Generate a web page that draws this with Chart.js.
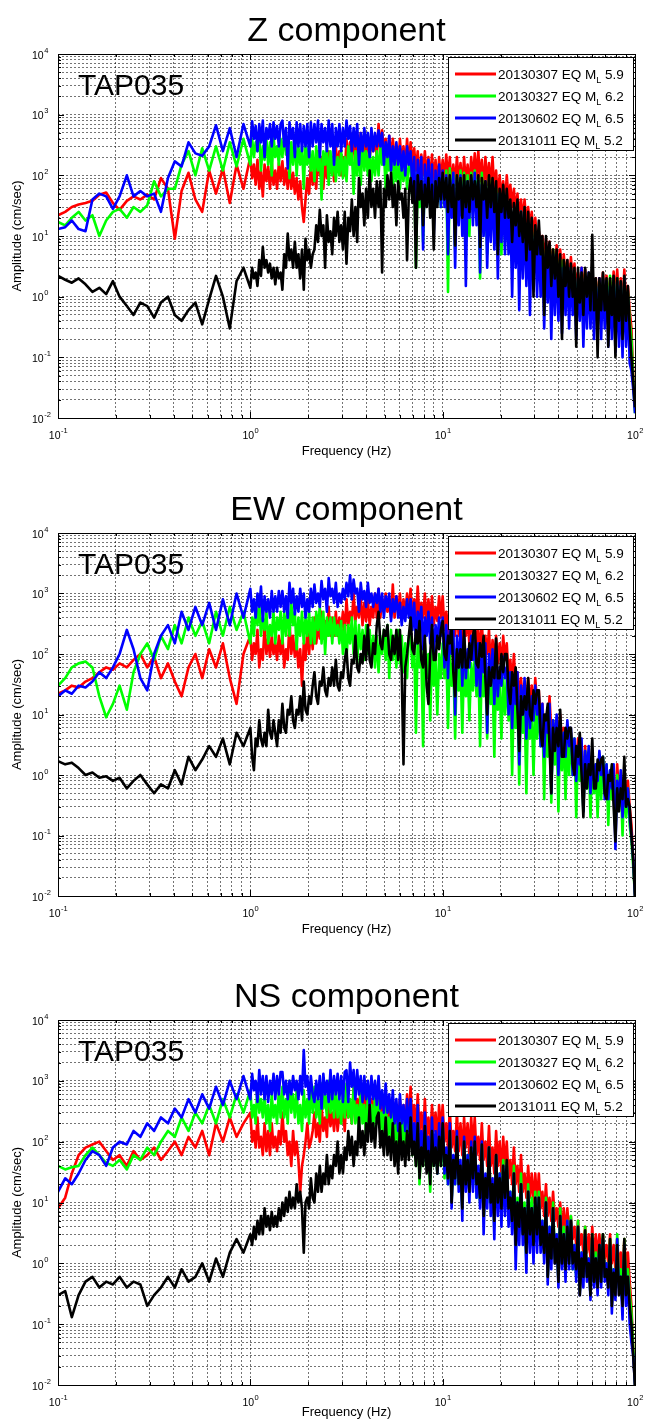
<!DOCTYPE html>
<html>
<head>
<meta charset="utf-8">
<title>TAP035 amplitude spectra</title>
<script src="https://cdn.jsdelivr.net/npm/chart.js@4.4.1/dist/chart.umd.min.js"></script>
<style>
  html, body { margin: 0; padding: 0; background: #fff; }
  body { width: 647px; height: 1421px; position: relative; overflow: hidden; }
  canvas { position: absolute; left: 0; }
</style>
</head>
<body>
<canvas id="panelZ" width="647" height="470" style="top:0px"></canvas>
<canvas id="panelEW" width="647" height="485" style="top:470px"></canvas>
<canvas id="panelNS" width="647" height="466" style="top:955px"></canvas>
<script>
const FONT = "'Liberation Sans', Arial, Helvetica, sans-serif";

// Frequency samples (Hz) shared by every spectrum
const freqHz = [
  0.100, 0.109, 0.118, 0.128, 0.139, 0.151, 0.164, 0.178, 0.193, 0.209,
  0.228, 0.247, 0.268, 0.291, 0.316, 0.343, 0.373, 0.405, 0.439, 0.477,
  0.518, 0.562, 0.611, 0.663, 0.720, 0.782, 0.848, 0.921,
  1.000, 1.022, 1.044, 1.066, 1.089, 1.113, 1.136, 1.161, 1.186, 1.212, 1.238, 1.265, 1.292, 1.320, 1.348, 1.377, 1.407, 1.437,
  1.468, 1.500, 1.532, 1.565, 1.598, 1.633, 1.668, 1.704, 1.741, 1.778, 1.817, 1.856, 1.896, 1.936, 1.978, 2.021, 2.064, 2.109,
  2.154, 2.201, 2.248, 2.297, 2.346, 2.397, 2.448, 2.501, 2.555, 2.610, 2.666, 2.724, 2.783, 2.843, 2.904, 2.967, 3.030, 3.096,
  3.162, 3.231, 3.300, 3.371, 3.444, 3.518, 3.594, 3.671, 3.750, 3.831, 3.914, 3.998, 4.084, 4.172, 4.262, 4.354, 4.448, 4.544,
  4.642, 4.742, 4.844, 4.948, 5.055, 5.164, 5.275, 5.389, 5.505, 5.623, 5.745, 5.869, 5.995, 6.124, 6.256, 6.391, 6.529, 6.669,
  6.813, 6.960, 7.110, 7.263, 7.419, 7.579, 7.743, 7.910, 8.080, 8.254, 8.432, 8.614, 8.799, 8.989, 9.183, 9.381, 9.583, 9.790,
  10.00, 10.22, 10.44, 10.66, 10.89, 11.13, 11.36, 11.61, 11.86, 12.12, 12.38, 12.65, 12.92, 13.20, 13.48, 13.77, 14.07, 14.37,
  14.68, 15.00, 15.32, 15.65, 15.98, 16.33, 16.68, 17.04, 17.41, 17.78, 18.17, 18.56, 18.96, 19.36, 19.78, 20.21, 20.64, 21.09,
  21.54, 22.01, 22.48, 22.97, 23.46, 23.97, 24.48, 25.01, 25.55, 26.10, 26.66, 27.24, 27.83, 28.43, 29.04, 29.67, 30.30, 30.96,
  31.62, 32.31, 33.00, 33.71, 34.44, 35.18, 35.94, 36.71, 37.50, 38.31, 39.14, 39.98, 40.84, 41.72, 42.62, 43.54, 44.48, 45.44,
  46.42, 47.42, 48.44, 49.48, 50.55, 51.64, 52.75, 53.89, 55.05, 56.23, 57.45, 58.69, 59.95, 61.24, 62.56, 63.91, 65.29, 66.69,
  68.13, 69.60, 71.10, 72.63, 74.19, 75.79, 77.43, 79.10, 80.80, 82.54, 84.32, 86.14, 87.99, 89.89, 91.83, 93.81, 95.83, 97.90,
  100.0
];

// ---- Z component amplitudes (cm/sec) ----
const zRed = [
  22, 25, 30, 33, 35, 38, 48, 52, 35, 27,
  38, 45, 40, 48, 40, 90, 60, 9, 55, 110,
  40, 25, 120, 50, 130, 35, 150, 60,
  200, 90, 150, 70, 180, 60, 120, 45, 150, 80, 140, 60, 160, 70, 120, 60, 160, 80,
  170, 70, 130, 60, 150, 60, 110, 50, 90, 40, 80, 30, 17, 40, 90, 50, 150, 70,
  120, 60, 250, 100, 200, 60, 180, 90, 250, 110, 200, 80, 300, 130, 250, 100, 200, 100,
  400, 180, 350, 150, 450, 200, 380, 150, 500, 220, 400, 200, 450, 200, 350, 250, 400, 200,
  700, 260, 550, 250, 400, 150, 450, 200, 400, 200, 300, 130, 400, 150, 300, 130, 400, 150,
  350, 150, 280, 120, 250, 80, 220, 100, 250, 90, 200, 80, 220, 80, 180, 60, 200, 80,
  180, 90, 220, 80, 200, 60, 150, 70, 200, 80, 160, 60, 200, 70, 150, 60, 200, 80,
  230, 90, 250, 80, 180, 60, 200, 70, 160, 60, 200, 50, 120, 40, 100, 40, 80, 30,
  100, 40, 70, 30, 60, 25, 50, 20, 40, 18, 40, 15, 30, 14, 25, 10, 20, 8,
  12, 5, 10, 4, 9, 3, 8, 3, 6, 2.5, 7, 2.5, 6, 2, 5, 2, 4, 1.5,
  4.5, 1.8, 3.5, 1.4, 2.5, 1, 3, 1.2, 2.8, 1, 2.2, 0.8, 2.5, 1, 2, 0.8, 2, 0.8,
  2.5, 1, 2.2, 0.8, 2, 0.8, 2.6, 0.9, 2.8, 0.8, 2, 0.6, 2.8, 0.8, 1.5, 0.6, 0.3, 0.05,
  0.015
];
const zGreen = [
  17, 15, 20, 25, 18, 22, 10, 18, 25, 28,
  20, 30, 25, 32, 80, 45, 60, 60, 150, 250,
  100, 280, 120, 300, 120, 350, 140, 400,
  150, 400, 200, 350, 250, 450, 120, 300, 180, 400, 150, 350, 100, 450, 200, 300, 150, 400,
  200, 500, 220, 400, 90, 350, 150, 400, 100, 300, 150, 300, 60, 350, 150, 300, 120, 250,
  80, 300, 120, 280, 40, 250, 150, 300, 70, 250, 100, 250, 80, 200, 100, 250, 90, 200,
  80, 300, 150, 250, 50, 250, 100, 300, 70, 350, 120, 250, 100, 300, 80, 200, 100, 250,
  100, 300, 150, 250, 60, 250, 120, 200, 50, 200, 80, 200, 60, 150, 80, 200, 60, 150,
  150, 40, 120, 3, 100, 30, 90, 8, 100, 40, 120, 30, 90, 20, 80, 40, 100, 30,
  100, 35, 120, 1.2, 130, 40, 110, 6, 100, 30, 120, 20, 110, 30, 100, 10, 110, 40,
  120, 40, 90, 2, 110, 30, 60, 5, 90, 20, 80, 15, 60, 20, 50, 5, 50, 15,
  40, 10, 30, 3, 25, 8, 20, 6, 25, 5, 20, 4, 15, 5, 15, 2, 12, 4,
  10, 3, 8, 0.8, 6, 2, 5, 1, 6, 1.5, 5, 1.2, 4, 1, 4, 0.8, 3, 1,
  3, 1, 2.5, 0.5, 2, 0.8, 2.2, 0.3, 2.4, 0.8, 2, 0.6, 2, 0.5, 1.8, 0.6, 1.5, 0.5,
  2, 0.6, 1.8, 0.5, 2.2, 0.5, 1.8, 0.4, 2, 0.5, 1.5, 0.3, 2, 0.5, 1.2, 0.4, 0.2, 0.04,
  0.012
];
const zBlue = [
  13, 14, 18, 13, 12, 40, 50, 45, 28, 45,
  100, 45, 55, 45, 50, 25, 90, 170, 140, 350,
  230, 210, 300, 670, 250, 600, 200, 700,
  300, 780, 400, 650, 250, 700, 350, 800, 200, 600, 400, 700, 300, 750, 400, 650, 300, 700,
  800, 300, 600, 130, 750, 400, 600, 200, 750, 300, 700, 250, 650, 300, 700, 200, 750, 300,
  700, 350, 800, 200, 700, 350, 600, 250, 800, 300, 700, 150, 600, 300, 700, 250, 600, 300,
  800, 400, 650, 250, 600, 300, 700, 150, 500, 250, 600, 300, 500, 200, 600, 250, 500, 300,
  550, 300, 500, 150, 350, 200, 450, 120, 300, 150, 350, 150, 300, 120, 250, 100, 300, 150,
  250, 60, 200, 15, 180, 50, 200, 6, 150, 40, 180, 30, 150, 10, 120, 40, 150, 30,
  120, 30, 100, 5, 90, 20, 110, 3, 90, 15, 100, 10, 80, 1.5, 80, 20, 90, 15,
  110, 15, 80, 2.5, 70, 10, 80, 3, 60, 8, 70, 6, 50, 2, 50, 8, 40, 5,
  40, 5, 30, 1, 25, 3, 30, 0.6, 25, 2, 20, 1.5, 15, 0.5, 12, 2, 10, 1,
  10, 1, 6, 0.3, 5, 0.8, 6, 0.2, 5, 0.5, 4, 0.4, 3, 0.25, 3, 0.5, 3, 0.3,
  3, 0.5, 2, 0.2, 2, 0.4, 3, 0.15, 2, 0.3, 2.5, 0.3, 2, 0.2, 1.5, 0.3, 2, 0.2,
  2, 0.3, 1.8, 0.15, 1.5, 0.2, 2, 0.12, 1.8, 0.15, 1.5, 0.1, 2, 0.15, 1, 0.08, 0.06, 0.03,
  0.012
];
const zBlack = [
  2.2, 1.9, 1.7, 2.0, 1.6, 1.2, 1.4, 1.1, 1.8, 1.0,
  0.7, 0.5, 0.8, 0.7, 0.45, 0.8, 1.0, 0.5, 0.4, 0.6,
  0.8, 0.35, 0.9, 2.2, 1.0, 0.3, 1.8, 3,
  1.4, 3, 2, 2.5, 1.5, 4, 2.2, 6.6, 3, 4, 2.5, 3.5, 2, 3, 1.6, 3, 2, 2.5,
  1.3, 5, 3, 11, 4, 6, 3, 8, 3, 5, 2, 6, 1.3, 9, 4, 6, 3, 5,
  6, 15, 8, 27, 10, 15, 3, 22, 8, 12, 5, 20, 10, 25, 8, 15, 6, 25,
  3.5, 20, 12, 40, 10, 30, 8, 90, 30, 50, 15, 60, 20, 120, 30, 60, 20, 80,
  30, 80, 2.5, 60, 30, 100, 40, 110, 30, 70, 15, 80, 40, 50, 20, 60, 4, 50,
  90, 35, 80, 3, 100, 40, 80, 15, 70, 30, 90, 20, 70, 6, 80, 30, 90, 40,
  110, 40, 90, 25, 100, 30, 70, 7, 100, 40, 90, 20, 100, 30, 80, 25, 100, 40,
  80, 30, 100, 6.6, 90, 40, 80, 20, 100, 30, 90, 25, 80, 5, 60, 25, 70, 20,
  60, 20, 40, 8, 35, 15, 40, 10, 25, 8, 30, 4, 25, 6, 20, 1, 15, 5,
  18, 5, 10, 0.5, 10, 3, 8, 1.5, 6, 2, 6, 1, 5, 0.2, 4, 1.5, 4, 1,
  3.5, 1, 3, 0.15, 3, 0.8, 2.5, 0.5, 3, 1, 2.5, 0.6, 10.5, 0.6, 2, 0.1, 2, 0.6,
  2.5, 0.6, 2, 0.15, 2, 0.5, 2.2, 0.1, 2, 0.4, 1.8, 0.2, 2.2, 0.4, 1.5, 0.3, 0.1, 0.04,
  0.015
];

// ---- EW component amplitudes (cm/sec) ----
const ewRed = [
  22, 25, 30, 28, 35, 40, 50, 60, 55, 70,
  60, 80, 100, 60, 90, 40, 70, 35, 20, 60,
  100, 40, 120, 60, 150, 40, 15, 100,
  200, 80, 150, 100, 250, 60, 120, 80, 300, 100, 180, 90, 200, 100, 150, 80, 200, 100,
  200, 60, 120, 80, 350, 100, 200, 90, 150, 60, 120, 30, 150, 80, 250, 100, 300, 120,
  400, 150, 300, 180, 500, 180, 350, 200, 600, 200, 400, 200, 500, 200, 400, 250, 500, 200,
  800, 300, 500, 350, 1000, 350, 600, 400, 900, 300, 700, 350, 800, 300, 600, 400, 1000, 400,
  1200, 400, 800, 500, 1000, 500, 700, 400, 1400, 400, 900, 500, 1000, 400, 800, 450, 1000, 500,
  1200, 400, 800, 400, 1300, 350, 700, 400, 1000, 300, 800, 350, 900, 300, 600, 350, 900, 400,
  900, 250, 500, 200, 700, 150, 400, 200, 600, 200, 350, 150, 500, 200, 400, 150, 500, 200,
  400, 120, 250, 100, 350, 80, 200, 100, 250, 60, 170, 80, 200, 70, 150, 60, 200, 80,
  150, 40, 80, 30, 100, 25, 50, 20, 40, 15, 30, 15, 40, 15, 30, 10, 40, 15,
  25, 6, 15, 5, 10, 4, 20, 5, 8, 3, 6, 3, 10, 3, 6, 2.5, 6, 3,
  5, 1.5, 3, 1.2, 4, 1, 2, 1, 3, 0.8, 1.5, 0.8, 2, 0.8, 1.5, 0.6, 1.5, 0.8,
  1.2, 0.5, 0.8, 0.4, 1.0, 0.4, 0.7, 0.4, 1.5, 0.5, 0.8, 0.4, 1, 0.4, 0.8, 0.3, 0.15, 0.04,
  0.01
];
const ewGreen = [
  30, 40, 60, 70, 75, 60, 20, 9, 15, 30,
  12, 50, 100, 150, 80, 200, 120, 300, 150, 400,
  200, 350, 150, 500, 200, 600, 250, 500,
  150, 400, 200, 600, 300, 700, 200, 400, 250, 500, 150, 300, 200, 500, 150, 400, 250, 500,
  150, 500, 200, 600, 200, 700, 300, 500, 120, 400, 200, 500, 150, 400, 200, 500, 150, 400,
  150, 500, 250, 600, 150, 500, 100, 400, 200, 400, 150, 400, 200, 300, 150, 350, 100, 300,
  80, 300, 150, 400, 100, 350, 70, 300, 120, 250, 80, 300, 100, 250, 80, 200, 60, 200,
  50, 200, 100, 250, 80, 300, 40, 250, 80, 200, 60, 250, 70, 200, 50, 150, 40, 200,
  200, 60, 150, 5, 180, 60, 120, 3, 150, 40, 100, 8, 120, 30, 80, 10, 100, 40,
  150, 40, 120, 6, 100, 30, 80, 4, 100, 25, 70, 5, 80, 20, 60, 8, 70, 25,
  90, 20, 80, 3, 70, 20, 50, 4, 60, 15, 40, 2, 50, 12, 30, 4, 40, 10,
  40, 8, 30, 1, 25, 6, 20, 0.7, 20, 5, 15, 0.5, 15, 4, 12, 1, 12, 4,
  15, 3, 12, 0.4, 10, 2, 8, 0.35, 8, 1.5, 6, 0.25, 6, 1.2, 5, 0.4, 4, 1,
  5, 1, 4, 0.2, 3, 0.8, 2.5, 0.25, 2.5, 0.6, 2, 0.2, 2, 0.5, 1.5, 0.2, 1.5, 0.4,
  2, 0.6, 1.5, 0.15, 1.2, 0.4, 1, 0.12, 1, 0.3, 0.8, 0.1, 0.8, 0.2, 0.6, 0.15, 0.08, 0.03,
  0.01
];
const ewBlue = [
  20, 25, 22, 30, 28, 35, 50, 40, 60, 100,
  250, 120, 40, 25, 100, 200, 300, 150, 500, 250,
  600, 300, 700, 250, 800, 300, 1000, 400,
  1200, 500, 800, 400, 1000, 600, 1300, 350, 900, 500, 800, 400, 1100, 500, 900, 500, 1100, 600,
  1100, 500, 900, 400, 1500, 700, 1200, 450, 900, 500, 1200, 600, 1000, 400, 800, 500, 1200, 600,
  1400, 700, 1000, 600, 1600, 800, 1200, 500, 1800, 900, 1200, 700, 1500, 600, 1000, 700, 1200, 800,
  1500, 900, 2000, 800, 1700, 1000, 1200, 500, 1500, 800, 1100, 600, 1500, 700, 1000, 600, 1000, 700,
  1200, 500, 1000, 400, 900, 600, 1000, 350, 800, 500, 900, 400, 700, 300, 600, 350, 800, 400,
  800, 250, 700, 150, 500, 300, 600, 120, 400, 200, 500, 150, 400, 100, 300, 150, 400, 200,
  400, 60, 300, 40, 250, 100, 300, 10, 200, 60, 250, 30, 200, 40, 120, 60, 200, 80,
  200, 30, 150, 20, 120, 50, 150, 5, 100, 30, 120, 15, 90, 20, 60, 30, 90, 40,
  60, 10, 50, 6, 40, 15, 50, 1.5, 30, 10, 40, 4, 30, 6, 20, 8, 30, 10,
  20, 3, 15, 2, 10, 5, 15, 0.5, 8, 3, 10, 1, 8, 2, 5, 2, 8, 3,
  6, 1, 4, 0.8, 3, 1.5, 4, 0.25, 2.5, 1, 3, 0.5, 2, 0.8, 1.5, 0.8, 2.5, 1,
  2, 0.4, 1.5, 0.4, 1.2, 0.6, 1.5, 0.06, 0.8, 0.4, 1.2, 0.2, 0.8, 0.3, 0.6, 0.2, 0.1, 0.04,
  0.01
];
const ewBlack = [
  1.7, 1.5, 1.6, 1.3, 1.0, 1.1, 0.9, 0.95, 0.8, 0.9,
  0.6, 0.8, 1.0, 0.7, 0.5, 0.7, 0.6, 1.2, 0.7, 2.0,
  1.2, 1.8, 3, 2.0, 4, 1.5, 5, 3,
  6, 2, 1.2, 4, 3, 8, 4, 3, 5, 3, 12, 5, 4, 8, 5, 3, 8, 5,
  15, 6, 5, 12, 10, 20, 8, 6, 12, 10, 20, 8, 35, 12, 10, 20, 15, 30,
  50, 20, 15, 35, 30, 60, 25, 20, 40, 30, 60, 30, 80, 30, 25, 50, 40, 80,
  120, 40, 30, 80, 70, 200, 60, 50, 100, 70, 200, 80, 300, 80, 60, 150, 100, 300,
  500, 150, 120, 250, 200, 300, 100, 80, 200, 100, 250, 80, 250, 50, 1.5, 60, 100, 200,
  400, 120, 100, 250, 150, 350, 80, 60, 200, 30, 15, 100, 300, 80, 80, 200, 120, 250,
  350, 100, 80, 200, 150, 300, 50, 20, 120, 60, 120, 60, 250, 60, 60, 150, 80, 200,
  300, 70, 60, 150, 90, 200, 40, 10, 60, 30, 60, 40, 180, 40, 40, 100, 50, 100,
  100, 25, 15, 50, 30, 60, 12, 2.5, 20, 10, 20, 12, 40, 10, 8, 25, 15, 25,
  25, 5, 3, 10, 8, 15, 3, 0.5, 6, 2.5, 6, 3, 12, 2, 2, 6, 4, 6,
  6, 1.5, 1, 3, 2, 5, 1, 0.2, 1.5, 0.6, 1.5, 1, 4, 0.6, 0.6, 1.8, 1.2, 1.8,
  2, 0.5, 0.4, 1, 0.8, 1.5, 0.3, 0.08, 0.6, 0.25, 0.6, 0.4, 2, 0.3, 0.4, 0.3, 0.1, 0.04,
  0.01
];

// ---- NS component amplitudes (cm/sec) ----
const nsRed = [
  8, 12, 30, 60, 80, 90, 100, 70, 50, 60,
  40, 70, 50, 60, 80, 50, 70, 100, 60, 120,
  80, 150, 60, 200, 100, 250, 120, 200,
  300, 100, 150, 80, 250, 80, 120, 60, 200, 70, 150, 60, 200, 80, 120, 70, 150, 90,
  300, 100, 150, 60, 100, 40, 150, 60, 100, 50, 15, 40, 60, 100, 200, 80, 100, 150,
  300, 120, 200, 100, 400, 150, 250, 120, 500, 180, 300, 150, 400, 150, 300, 200, 400, 150,
  600, 250, 400, 200, 800, 300, 500, 250, 1000, 350, 600, 300, 700, 300, 500, 250, 600, 300,
  700, 250, 500, 200, 600, 200, 400, 180, 500, 180, 300, 150, 500, 200, 400, 150, 600, 200,
  800, 200, 400, 150, 600, 150, 300, 120, 500, 120, 250, 100, 400, 150, 300, 100, 400, 150,
  400, 100, 200, 80, 350, 80, 150, 70, 300, 70, 200, 60, 250, 80, 200, 60, 250, 80,
  250, 60, 120, 50, 200, 50, 100, 40, 180, 40, 80, 30, 150, 40, 100, 30, 120, 40,
  100, 25, 50, 20, 80, 20, 40, 15, 60, 15, 30, 12, 40, 12, 30, 10, 30, 10,
  30, 8, 15, 6, 20, 6, 12, 5, 15, 5, 8, 4, 10, 3, 8, 3, 8, 3,
  6, 2.5, 4, 2, 5, 2, 3, 1.5, 4, 1.5, 3, 1.2, 4, 1.2, 3, 1.2, 3, 1.2,
  3, 1.2, 2, 1, 3, 1, 2, 0.8, 2.5, 0.8, 1.5, 0.6, 2.5, 0.8, 1.5, 0.5, 0.2, 0.04,
  0.01
];
const nsGreen = [
  40, 35, 38, 40, 60, 80, 60, 45, 40, 50,
  35, 60, 50, 80, 60, 100, 150, 120, 250, 150,
  300, 200, 400, 200, 500, 250, 600, 300,
  700, 250, 400, 200, 900, 300, 500, 250, 600, 200, 400, 150, 600, 250, 400, 200, 700, 250,
  800, 250, 500, 200, 1000, 300, 600, 250, 700, 200, 400, 150, 700, 250, 500, 200, 800, 300,
  800, 250, 500, 200, 900, 350, 600, 250, 1000, 300, 600, 250, 800, 250, 500, 200, 700, 250,
  900, 250, 500, 200, 800, 200, 400, 150, 700, 200, 400, 120, 600, 200, 400, 150, 600, 200,
  600, 150, 300, 120, 500, 120, 250, 100, 400, 100, 200, 80, 350, 100, 250, 60, 300, 80,
  300, 60, 120, 40, 250, 20, 100, 40, 200, 40, 80, 15, 150, 40, 100, 30, 120, 40,
  180, 25, 60, 20, 150, 10, 50, 20, 120, 20, 40, 8, 100, 20, 60, 15, 80, 20,
  100, 12, 30, 10, 90, 5, 25, 10, 80, 10, 20, 4, 60, 10, 30, 8, 50, 10,
  50, 5, 15, 4, 40, 1.5, 12, 4, 30, 3, 10, 1, 20, 3, 12, 2, 15, 3,
  15, 2, 5, 1.5, 12, 0.6, 4, 1.2, 10, 1.2, 3, 0.5, 8, 1, 4, 0.8, 5, 1,
  6, 0.8, 2, 0.6, 5, 0.35, 1.5, 0.6, 4, 0.6, 1.2, 0.3, 3, 0.5, 1.5, 0.4, 2, 0.5,
  3, 0.6, 1, 0.5, 2.5, 0.25, 0.8, 0.4, 3, 0.4, 0.8, 0.2, 2.5, 0.4, 0.8, 0.3, 0.15, 0.04,
  0.01
];
const nsBlue = [
  15, 25, 20, 30, 50, 70, 60, 40, 80, 100,
  90, 150, 120, 200, 150, 250, 200, 350, 250, 500,
  300, 600, 350, 800, 400, 1000, 500, 1200,
  500, 1300, 700, 1000, 450, 1500, 600, 1200, 500, 1200, 450, 1000, 600, 1300, 500, 1200, 600, 1400,
  1400, 600, 1000, 500, 1000, 600, 1200, 700, 1000, 500, 1200, 600, 3200, 800, 1200, 500, 1200, 600,
  450, 1000, 500, 1200, 350, 1300, 600, 1000, 450, 1500, 500, 1200, 600, 1300, 500, 1200, 450, 1400,
  1500, 450, 2000, 800, 1500, 500, 1500, 600, 1200, 450, 1200, 500, 1000, 400, 1200, 500, 1000, 400,
  1200, 350, 700, 300, 900, 300, 600, 250, 700, 200, 500, 150, 600, 200, 400, 150, 500, 150,
  500, 100, 200, 60, 400, 40, 150, 50, 300, 60, 120, 30, 250, 50, 150, 30, 200, 50,
  250, 30, 80, 20, 200, 8, 60, 20, 150, 15, 50, 5, 120, 15, 60, 10, 100, 15,
  120, 12, 40, 8, 100, 3, 30, 8, 80, 6, 25, 2.5, 60, 6, 30, 4, 40, 6,
  40, 4, 15, 3, 30, 0.8, 10, 2, 20, 2, 8, 0.7, 15, 1.5, 8, 1, 12, 1.5,
  12, 1.5, 5, 1, 10, 0.45, 4, 0.8, 8, 1, 3, 0.4, 6, 0.8, 3, 0.5, 5, 0.8,
  5, 0.8, 2, 0.5, 4, 0.3, 1.5, 0.4, 3, 0.5, 1.2, 0.25, 2.5, 0.4, 1.2, 0.3, 2, 0.4,
  2.5, 0.5, 1, 0.3, 2, 0.15, 0.8, 0.25, 2.5, 0.3, 0.6, 0.12, 2, 0.2, 0.6, 0.1, 0.05, 0.03,
  0.01
];
const nsBlack = [
  0.3, 0.35, 0.13, 0.3, 0.5, 0.6, 0.4, 0.5, 0.45, 0.6,
  0.4, 0.5, 0.45, 0.2, 0.3, 0.4, 0.6, 0.4, 0.8, 0.5,
  0.6, 1.0, 0.5, 1.2, 0.6, 1.5, 2.5, 1.5,
  3, 2, 4, 2.5, 5, 3, 6, 3, 8, 4, 6, 3.5, 7, 4, 6, 4, 8, 5,
  10, 6, 12, 7, 15, 8, 12, 8, 20, 10, 15, 8, 1.5, 10, 12, 8, 25, 12,
  10, 30, 15, 40, 15, 30, 20, 60, 20, 40, 25, 60, 40, 100, 30, 60, 30, 80,
  50, 150, 60, 120, 40, 100, 60, 250, 80, 150, 60, 200, 100, 400, 100, 200, 80, 250,
  300, 80, 150, 60, 250, 60, 120, 50, 200, 40, 100, 30, 200, 50, 100, 40, 150, 50,
  250, 60, 100, 40, 200, 25, 80, 40, 180, 30, 70, 20, 150, 40, 80, 30, 120, 40,
  200, 40, 60, 25, 150, 10, 50, 25, 120, 20, 40, 8, 100, 20, 50, 15, 80, 25,
  100, 20, 30, 12, 90, 6, 25, 12, 80, 10, 20, 5, 60, 10, 25, 8, 40, 12,
  50, 8, 12, 5, 30, 2, 10, 4, 20, 3, 8, 1.5, 15, 3, 8, 2, 12, 3,
  12, 2, 4, 1.5, 10, 0.6, 3, 1.2, 8, 1, 2.5, 0.5, 6, 1, 3, 0.8, 4, 1,
  5, 1, 1.5, 0.8, 4, 0.3, 1.2, 0.6, 3.5, 0.6, 1, 0.3, 3, 0.5, 1.2, 0.4, 2, 0.5,
  3, 0.6, 0.8, 0.4, 2.5, 0.2, 0.7, 0.3, 2, 0.3, 0.6, 0.2, 2.5, 0.3, 0.6, 0.2, 0.1, 0.03,
  0.01
];

// Events shown in the legend
const eventDates = ['20130307', '20130327', '20130602', '20131011'];
const eventMags = ['5.9', '6.2', '6.5', '5.2'];
const eventColors = ['#ff0000', '#00ff00', '#0000ff', '#000000'];
const stationName = 'TAP035';

// Axis decades
const xDecades = [0.1, 1, 10, 100];
const yDecades = [0.01, 0.1, 1, 10, 100, 1000, 10000];

const panels = [
  { id: 'panelZ',  title: 'Z component',  series: [zRed, zGreen, zBlue, zBlack],     padTop: 54, axisH: 52, xTitlePad: 11.2, titleBase: 41 },
  { id: 'panelEW', title: 'EW component', series: [ewRed, ewGreen, ewBlue, ewBlack], padTop: 63, axisH: 59, xTitlePad: 18.2, titleBase: 50 },
  { id: 'panelNS', title: 'NS component', series: [nsRed, nsGreen, nsBlue, nsBlack], padTop: 65, axisH: 36, xTitlePad: 1.2,  titleBase: 52 },
];

// 1..9 x 10^n positions for the dotted grid and tick marks
function logSteps(decades) {
  const out = [];
  decades.forEach((d, i) => {
    if (i === decades.length - 1) { out.push(d); return; }
    for (let k = 1; k < 10; k++) out.push(+(d * k).toPrecision(3));
  });
  return out;
}
const xSteps = logSteps(xDecades);
const ySteps = logSteps(yDecades);
const isDecade = v => Math.abs(Math.log10(v) - Math.round(Math.log10(v))) < 1e-6;

const GRID = 'rgba(0,0,0,0.55)';

// "10" with a raised exponent, like the MATLAB log tick labels
function drawPower(ctx, value, x, baseline, align) {
  const exp = String(Math.round(Math.log10(value)));
  ctx.font = `10.5px ${FONT}`;
  const wb = ctx.measureText('10').width;
  ctx.font = `7.5px ${FONT}`;
  const we = ctx.measureText(exp).width;
  const left = align === 'center' ? x - (wb + we) / 2 : x;
  ctx.textAlign = 'left';
  ctx.textBaseline = 'alphabetic';
  ctx.font = `10.5px ${FONT}`;
  ctx.fillText('10', left, baseline);
  ctx.font = `7.5px ${FONT}`;
  ctx.fillText(exp, left + wb + 0.5, baseline - 6);
}

// Box, inward ticks, tick labels, title, station name and legend
const framePlugin = {
  id: 'matlabFrame',
  afterDatasetsDraw(chart, args, opts) {
    const { ctx, chartArea: a, scales: { x, y } } = chart;
    ctx.save();
    ctx.strokeStyle = '#000';
    ctx.lineWidth = 1;

    ctx.beginPath();
    xSteps.forEach(v => {
      const px = Math.round(x.getPixelForValue(v)) + 0.5;
      const len = isDecade(v) ? 6 : 3;
      ctx.moveTo(px, a.bottom); ctx.lineTo(px, a.bottom - len);
      ctx.moveTo(px, a.top); ctx.lineTo(px, a.top + len);
    });
    ySteps.forEach(v => {
      const py = Math.round(y.getPixelForValue(v)) + 0.5;
      const len = isDecade(v) ? 6 : 3;
      ctx.moveTo(a.left, py); ctx.lineTo(a.left + len, py);
      ctx.moveTo(a.right, py); ctx.lineTo(a.right - len, py);
    });
    ctx.stroke();
    ctx.strokeRect(a.left + 0.5, a.top + 0.5, a.right - a.left, a.bottom - a.top);

    ctx.fillStyle = '#000';
    xDecades.forEach(v => drawPower(ctx, v, x.getPixelForValue(v), a.bottom + 21, 'center'));
    yDecades.forEach(v => drawPower(ctx, v, 32, y.getPixelForValue(v) + 4.5, 'left'));

    // title
    ctx.font = `34px ${FONT}`;
    ctx.textAlign = 'center';
    ctx.textBaseline = 'alphabetic';
    ctx.fillText(opts.title, (a.left + a.right) / 2, opts.titleBase);

    // station name
    ctx.font = `30px ${FONT}`;
    ctx.textAlign = 'left';
    ctx.fillText(stationName, a.left + 20, a.top + 41);

    // legend
    const bx = a.right - 187, by = a.top + 3;
    ctx.fillStyle = '#fff';
    ctx.fillRect(bx, by, 185, 93);
    ctx.strokeRect(bx + 0.5, by + 0.5, 185, 93);
    eventDates.forEach((d, i) => {
      const ry = a.top + 20 + 22 * i;
      ctx.strokeStyle = eventColors[i];
      ctx.lineWidth = 2.8;
      ctx.beginPath();
      ctx.moveTo(a.right - 180, ry);
      ctx.lineTo(a.right - 139, ry);
      ctx.stroke();
      ctx.fillStyle = '#000';
      ctx.font = `13.5px ${FONT}`;
      let tx = a.right - 137;
      const main = `${d} EQ M`;
      ctx.fillText(main, tx, ry + 5);
      tx += ctx.measureText(main).width;
      ctx.font = `9px ${FONT}`;
      ctx.fillText('L', tx, ry + 9);
      tx += ctx.measureText('L').width;
      ctx.font = `13.5px ${FONT}`;
      ctx.fillText(` ${eventMags[i]}`, tx, ry + 5);
    });
    ctx.restore();
  }
};

function buildPanel(p) {
  p.series.forEach((s, i) => {
    if (s.length !== freqHz.length) throw new Error(`${p.title} series ${i}: ${s.length} values`);
  });
  const axisFont = { family: FONT, size: 13 };
  return new Chart(document.getElementById(p.id), {
    type: 'line',
    data: {
      datasets: p.series.map((vals, i) => ({
        label: eventDates[i],
        data: freqHz.map((f, k) => ({ x: f, y: vals[k] })),
        borderColor: eventColors[i],
        borderWidth: 2.6,
        borderJoinStyle: 'round',
        pointRadius: 0,
        tension: 0,
        order: 4 - i,
      })),
    },
    options: {
      responsive: false,
      animation: false,
      devicePixelRatio: 1,
      layout: { padding: { top: p.padTop, right: 12, bottom: 0, left: 0 } },
      plugins: {
        legend: { display: false },
        tooltip: { enabled: false },
        matlabFrame: { title: p.title, titleBase: p.titleBase },
      },
      scales: {
        x: {
          type: 'logarithmic',
          min: 0.1,
          max: 100,
          afterBuildTicks: s => { s.ticks = xSteps.map(v => ({ value: v })); },
          afterFit: s => { s.height = p.axisH; },
          ticks: { display: false },
          grid: { color: GRID, lineWidth: 1, drawTicks: false },
          border: { display: false, dash: [2, 2] },
          title: { display: true, text: 'Frequency (Hz)', color: '#000', font: axisFont, padding: { top: 0, bottom: p.xTitlePad } },
        },
        y: {
          type: 'logarithmic',
          min: 0.01,
          max: 10000,
          afterBuildTicks: s => { s.ticks = ySteps.map(v => ({ value: v })); },
          afterFit: s => { s.width = 58; },
          ticks: { display: false },
          grid: { color: GRID, lineWidth: 1, drawTicks: false },
          border: { display: false, dash: [2, 2] },
          title: { display: true, text: 'Amplitude (cm/sec)', color: '#000', font: axisFont, padding: { top: 9.7, bottom: 0 } },
        },
      },
    },
    plugins: [framePlugin],
  });
}

panels.forEach(buildPanel);
</script>
</body>
</html>
